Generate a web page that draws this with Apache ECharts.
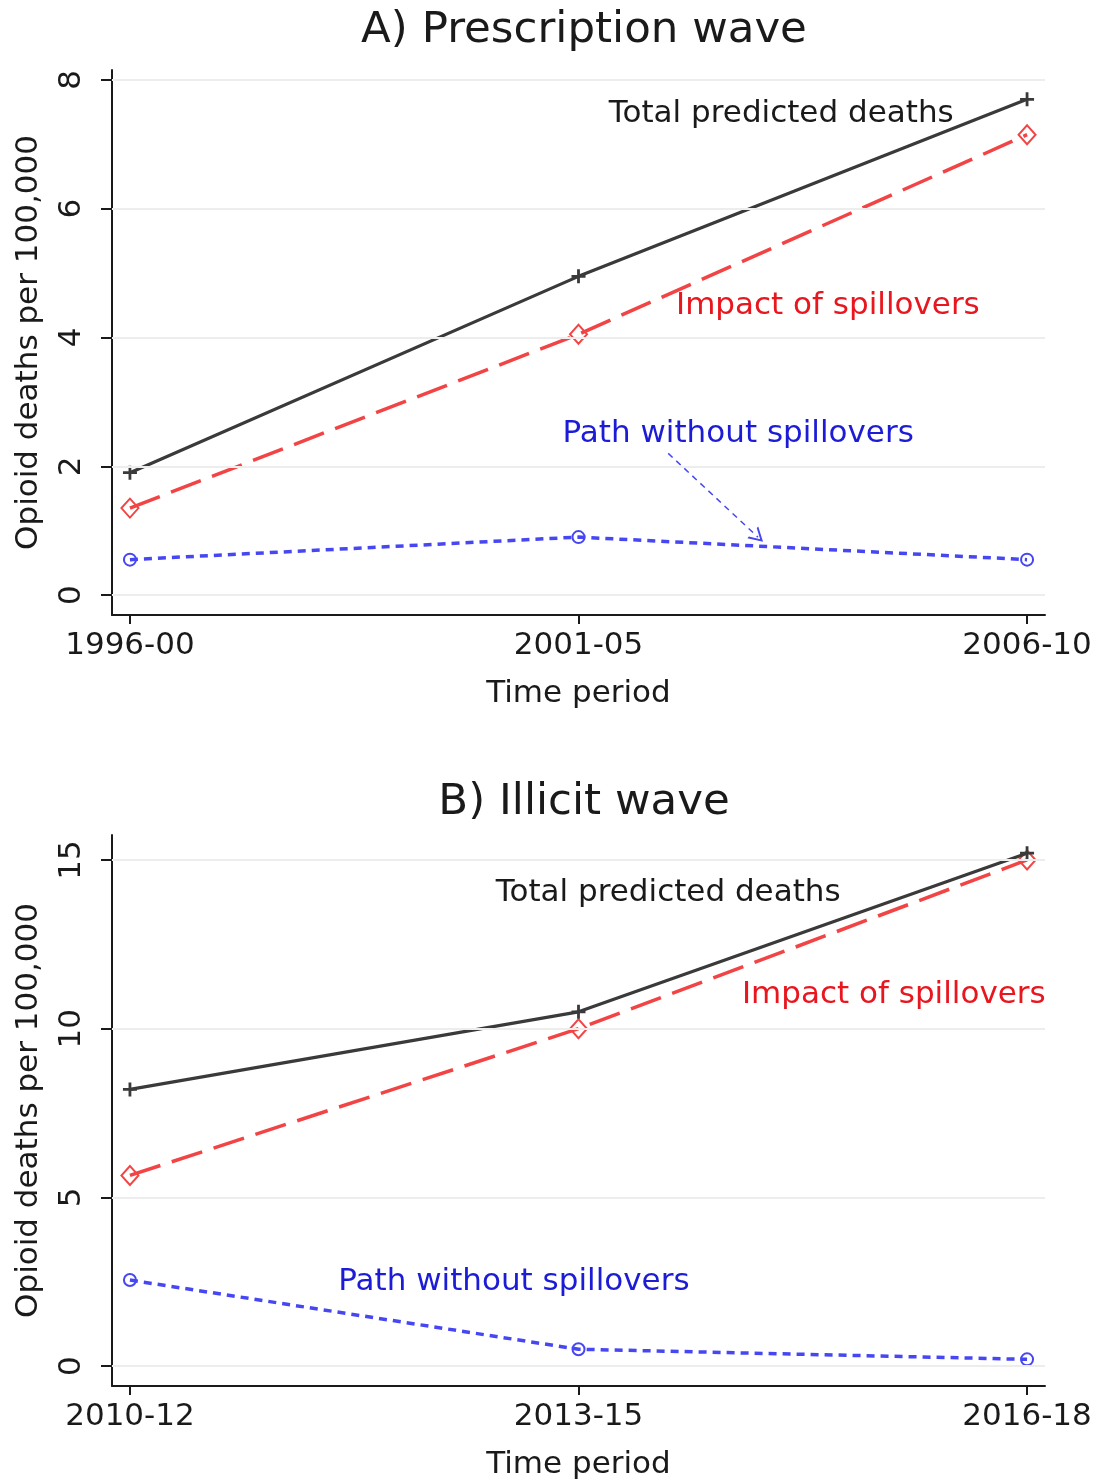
<!DOCTYPE html>
<html>
<head>
<meta charset="utf-8">
<script src="https://cdn.jsdelivr.net/npm/echarts@6/dist/echarts.min.js"></script>
<style>
  html, body { margin: 0; padding: 0; background: #fff; }
  #chart { width: 1099px; height: 1481px; }
</style>
</head>
<body>
<div id="chart"></div>
<script>
// 数据：A) Prescription wave
const periodsA = ['1996-00', '2001-05', '2006-10'];
const totalA = [1.9, 4.95, 7.7];
const impactA = [1.35, 4.05, 7.15];
const pathA = [0.55, 0.9, 0.55];
const yTicksA = [0, 2, 4, 6, 8];

// 数据：B) Illicit wave
const periodsB = ['2010-12', '2013-15', '2016-18'];
const totalB = [8.2, 10.5, 15.2];
const impactB = [5.65, 10.0, 15.0];
const pathB = [2.55, 0.5, 0.2];
const yTicksB = [0, 5, 10, 15];

const xTicks = [0, 1, 2];

// 注释文字（数据坐标）
const notesA = [
  { text: 'Total predicted deaths', at: [1.452, 7.48], color: '#1a1a1a' },
  { text: 'Impact of spillovers', at: [1.556, 4.49], color: '#e8161e' },
  { text: 'Path without spillovers', at: [1.356, 2.5], color: '#1c1cd6' }
];
const notesB = [
  { text: 'Total predicted deaths', at: [1.2, 14.02], color: '#1a1a1a' },
  { text: 'Impact of spillovers', at: [1.703, 11.0], color: '#e8161e' },
  { text: 'Path without spillovers', at: [0.856, 2.49], color: '#1c1cd6' }
];
const arrowA = [[1.2, 2.2], [1.4, 0.9]];

const FONT = 'DejaVu Sans';
const FS = 31;
const C_TOTAL = '#3a3a3a';
const C_IMPACT = '#f24444';
const C_PATH = '#4646f2';
const PLUS = 'path://M4,0h2v4h4v2h-4v4h-2v-4h-4v-2h4z';
// 空心箭头（V形）
const CHEVRON = 'path://M5,0 L10,10 L8.6,10 L5,2.8 L1.4,10 L0,10 Z';

const toXY = arr => arr.map((v, i) => [i, v]);

function xAxisFor(idx, periods) {
  return {
    type: 'value', gridIndex: idx, min: -0.04, max: 2.04,
    name: 'Time period', nameLocation: 'middle', nameGap: 63,
    nameTextStyle: { fontFamily: FONT, fontSize: FS, color: '#1a1a1a' },
    axisLine: { show: true, onZero: false, lineStyle: { color: '#1a1a1a', width: 2 } },
    axisTick: { show: true, customValues: xTicks, length: 9, lineStyle: { color: '#1a1a1a', width: 2 } },
    axisLabel: {
      customValues: xTicks, margin: 15, fontFamily: FONT, fontSize: FS, color: '#1a1a1a',
      formatter: v => periods[Math.round(v)]
    },
    splitLine: { show: false }
  };
}

function yAxisFor(idx, min, max, ticks) {
  return {
    type: 'value', gridIndex: idx, min: min, max: max,
    name: 'Opioid deaths per 100,000', nameLocation: 'middle', nameGap: 68, nameRotate: 90,
    nameTextStyle: { fontFamily: FONT, fontSize: FS, color: '#1a1a1a' },
    axisLine: { show: true, onZero: false, lineStyle: { color: '#1a1a1a', width: 2 } },
    axisTick: { show: true, customValues: ticks, length: 11, lineStyle: { color: '#1a1a1a', width: 2 } },
    axisLabel: {
      customValues: ticks, rotate: 90, margin: 25,
      fontFamily: FONT, fontSize: FS, color: '#1a1a1a'
    },
    splitLine: { show: false }
  };
}

function panelSeries(idx, total, impact, path, ticks, notes, arrow) {
  const list = [];
  // 网格线
  list.push({
    type: 'line', xAxisIndex: idx, yAxisIndex: idx, data: [], z: 1, silent: true,
    markLine: {
      silent: true, symbol: 'none', label: { show: false },
      lineStyle: { color: '#ededed', width: 2, type: 'solid' },
      data: ticks.map(t => ({ yAxis: t }))
    }
  });
  list.push({
    type: 'line', xAxisIndex: idx, yAxisIndex: idx, data: toXY(path), z: 3,
    symbol: 'circle', symbolSize: 12,
    itemStyle: { color: 'rgba(0,0,0,0)', borderColor: C_PATH, borderWidth: 2 },
    lineStyle: { color: C_PATH, width: 3.5, type: [8, 6] }
  });
  list.push({
    type: 'line', xAxisIndex: idx, yAxisIndex: idx, data: toXY(impact), z: 3,
    symbol: 'diamond', symbolSize: [17, 19],
    itemStyle: { color: 'rgba(0,0,0,0)', borderColor: C_IMPACT, borderWidth: 2 },
    lineStyle: { color: C_IMPACT, width: 3.5, type: [32, 12] }
  });
  const totalSeries = {
    type: 'line', xAxisIndex: idx, yAxisIndex: idx, data: toXY(total), z: 4,
    symbol: PLUS, symbolSize: 14,
    itemStyle: { color: C_TOTAL },
    lineStyle: { color: C_TOTAL, width: 3.2 },
    markPoint: {
      silent: true, symbol: 'circle', symbolSize: 0,
      data: notes.map(n => ({
        coord: n.at, value: n.text,
        label: { show: true, position: 'inside', formatter: n.text, color: n.color, fontFamily: FONT, fontSize: FS }
      }))
    }
  };
  if (arrow) {
    totalSeries.markLine = {
      silent: true, symbol: ['none', CHEVRON], symbolSize: [16, 14],
      label: { show: false },
      lineStyle: { color: C_PATH, width: 1.5, type: [6, 5] },
      data: [[{ coord: arrow[0] }, { coord: arrow[1] }]]
    };
  }
  list.push(totalSeries);
  return list;
}

const chart = echarts.init(document.getElementById('chart'), null, { renderer: 'canvas' });
chart.setOption({
  backgroundColor: '#fff',
  animation: false,
  title: [
    { text: 'A) Prescription wave', left: 579, top: 4, textAlign: 'center',
      textStyle: { fontFamily: FONT, fontSize: 43.5, fontWeight: 'normal', color: '#1a1a1a' } },
    { text: 'B) Illicit wave', left: 579, top: 776, textAlign: 'center',
      textStyle: { fontFamily: FONT, fontSize: 43.5, fontWeight: 'normal', color: '#1a1a1a' } }
  ],
  grid: [
    { left: 112, right: 54, top: 70, height: 545 },
    { left: 112, right: 54, top: 835, height: 552 }
  ],
  xAxis: [xAxisFor(0, periodsA), xAxisFor(1, periodsB)],
  yAxis: [yAxisFor(0, -0.31, 8.155, yTicksA), yAxisFor(1, -0.59, 15.74, yTicksB)],
  series: [
    ...panelSeries(0, totalA, impactA, pathA, yTicksA, notesA, arrowA),
    ...panelSeries(1, totalB, impactB, pathB, yTicksB, notesB, null)
  ]
});
</script>
</body>
</html>
